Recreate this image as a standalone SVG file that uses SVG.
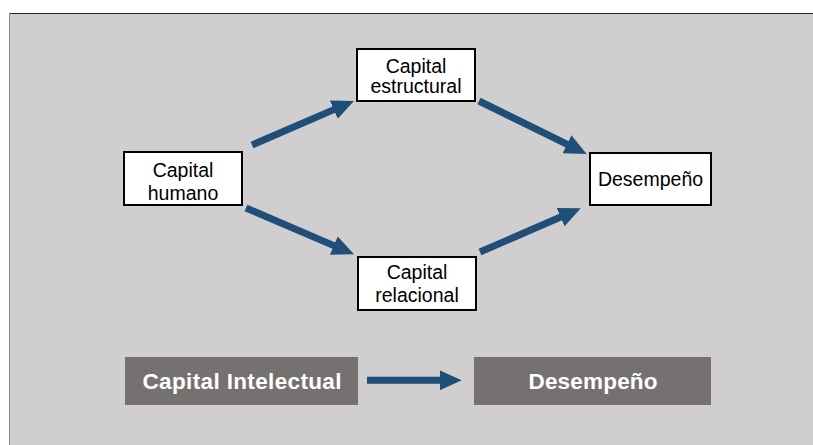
<svg xmlns="http://www.w3.org/2000/svg" width="813" height="445" viewBox="0 0 813 445">
  <style>
    .node rect { fill: #ffffff; stroke: #000000; stroke-width: 2; }
    .node text { font-family: "Liberation Sans", Arial, sans-serif; font-size: 19.5px; fill: #000000; text-anchor: middle; }
    .gbox rect { fill: #767171; }
    .gbox text { font-family: "Liberation Sans", Arial, sans-serif; font-size: 22.5px; font-weight: bold; fill: #ffffff; text-anchor: middle; }
    .conn line { stroke: #1F4E79; stroke-width: 7; fill: none; }
  </style>
  <defs>
    <marker id="head" markerUnits="userSpaceOnUse" markerWidth="22" markerHeight="20" refX="2" refY="10" orient="auto">
      <path d="M0,0 L22,10 L0,20 Z" fill="#1F4E79"/>
    </marker>
  </defs>

  <rect x="0" y="0" width="813" height="445" fill="#ffffff"/>
  <rect x="9" y="13" width="804" height="432" fill="#d0cecf"/>
  <line x1="9" y1="13.5" x2="813" y2="13.5" stroke="#222222" stroke-width="1"/>
  <line x1="9.5" y1="13" x2="9.5" y2="445" stroke="#8a8a8a" stroke-width="1"/>

  <g class="conn">
    <line x1="252" y1="145" x2="335.6" y2="108.9" marker-end="url(#head)"/>
    <line x1="479" y1="101" x2="568.8" y2="145.2" marker-end="url(#head)"/>
    <line x1="246" y1="208" x2="335.6" y2="246.4" marker-end="url(#head)"/>
    <line x1="480" y1="252" x2="562.4" y2="216.3" marker-end="url(#head)"/>
    <line x1="367" y1="380.3" x2="441.7" y2="380.3" marker-end="url(#head)"/>
  </g>

  <g id="capital-humano" class="node">
    <rect x="124" y="152" width="118" height="53"/>
    <text x="183" y="177">Capital</text>
    <text x="183" y="199.5">humano</text>
  </g>
  <g id="capital-estructural" class="node">
    <rect x="357" y="49" width="118" height="52"/>
    <text x="416" y="72.5">Capital</text>
    <text x="416" y="93.3">estructural</text>
  </g>
  <g id="capital-relacional" class="node">
    <rect x="358" y="257" width="118" height="53"/>
    <text x="417" y="279">Capital</text>
    <text x="417" y="301.5">relacional</text>
  </g>
  <g id="desempeno" class="node">
    <rect x="590" y="153" width="121" height="52"/>
    <text x="650.5" y="185.5">Desempeño</text>
  </g>

  <g id="capital-intelectual" class="gbox">
    <rect x="125" y="357" width="233" height="48"/>
    <text x="242" y="388.5" textLength="199" lengthAdjust="spacing">Capital Intelectual</text>
  </g>
  <g id="desempeno-bottom" class="gbox">
    <rect x="474" y="357" width="237" height="48"/>
    <text x="593" y="388.5" textLength="129" lengthAdjust="spacing">Desempeño</text>
  </g>
</svg>
